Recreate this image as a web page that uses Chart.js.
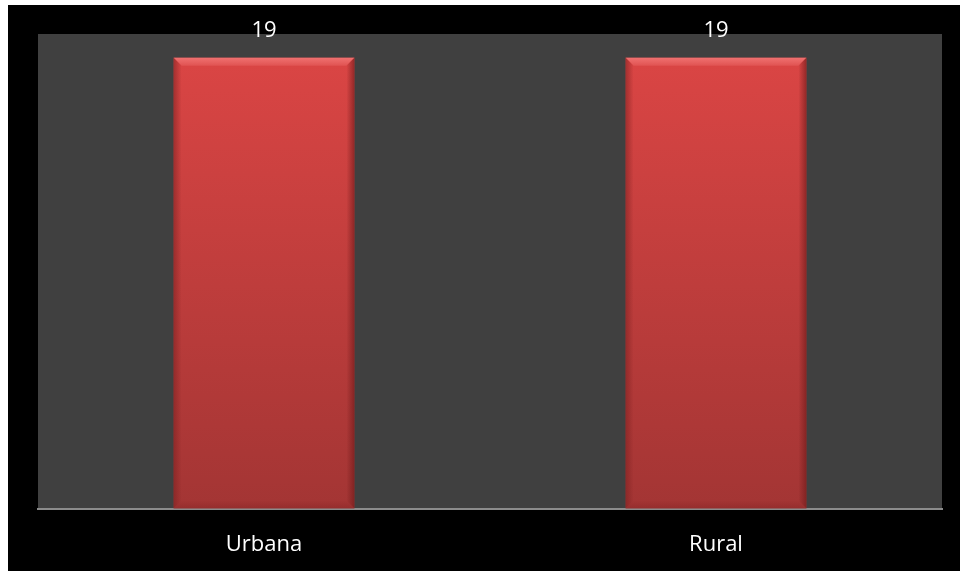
<!DOCTYPE html>
<html>
<head>
<meta charset="utf-8">
<script src="https://cdn.jsdelivr.net/npm/chart.js@4.4.1/dist/chart.umd.min.js"></script>
<style>
  html, body { margin: 0; padding: 0; background: #ffffff; overflow: hidden; }
  #wrap { position: absolute; left: 0; top: 0; width: 960px; height: 590px; }
</style>
</head>
<body>
<div id="wrap"><canvas id="c" width="960" height="590"></canvas></div>
<script>
const categories = ["Urbana", "Rural"];
const values = [19, 19];
const yMax = 20;

const FONT = "'Open Sans', 'Liberation Sans', sans-serif";

// Page frame: white strip on left/top, black backdrop, grey plot area
const framePlugin = {
  id: "frame",
  beforeDraw(chart) {
    const ctx = chart.ctx;
    const a = chart.chartArea;
    ctx.save();
    ctx.fillStyle = "#ffffff";
    ctx.fillRect(0, 0, chart.width, chart.height);
    ctx.fillStyle = "#000000";
    ctx.fillRect(8, 5, chart.width - 8, chart.height - 5);
    ctx.fillStyle = "#404040";
    ctx.fillRect(a.left, a.top, a.right - a.left, a.bottom - a.top);
    ctx.restore();
  }
};

// Bevelled bar faces drawn over each bar element
const bevelPlugin = {
  id: "bevel",
  afterDatasetsDraw(chart) {
    const ctx = chart.ctx;
    const meta = chart.getDatasetMeta(0);
    meta.data.forEach((bar) => {
      const w = bar.width;
      const l = bar.x - w / 2, r = bar.x + w / 2;
      const t = bar.y, b = bar.base;
      const e = 8;
      ctx.save();
      // top bevel
      let g = ctx.createLinearGradient(0, t, 0, t + e);
      g.addColorStop(0, "#f07170");
      g.addColorStop(1, "#e05352");
      ctx.fillStyle = g;
      ctx.beginPath();
      ctx.moveTo(l, t); ctx.lineTo(r, t); ctx.lineTo(r - e, t + e); ctx.lineTo(l + e, t + e); ctx.closePath();
      ctx.fill();
      // left bevel
      g = ctx.createLinearGradient(l, 0, l + e, 0);
      g.addColorStop(0, "rgba(120,30,30,0.55)");
      g.addColorStop(1, "rgba(120,30,30,0.0)");
      ctx.fillStyle = g;
      ctx.beginPath();
      ctx.moveTo(l, t); ctx.lineTo(l + e, t + e); ctx.lineTo(l + e, b - e); ctx.lineTo(l, b); ctx.closePath();
      ctx.fill();
      // right bevel
      g = ctx.createLinearGradient(r, 0, r - e, 0);
      g.addColorStop(0, "rgba(110,25,25,0.65)");
      g.addColorStop(1, "rgba(110,25,25,0.0)");
      ctx.fillStyle = g;
      ctx.beginPath();
      ctx.moveTo(r, t); ctx.lineTo(r - e, t + e); ctx.lineTo(r - e, b - e); ctx.lineTo(r, b); ctx.closePath();
      ctx.fill();
      // bottom bevel
      g = ctx.createLinearGradient(0, b - e, 0, b);
      g.addColorStop(0, "rgba(140,40,40,0.0)");
      g.addColorStop(1, "rgba(140,40,40,0.6)");
      ctx.fillStyle = g;
      ctx.beginPath();
      ctx.moveTo(l, b); ctx.lineTo(l + e, b - e); ctx.lineTo(r - e, b - e); ctx.lineTo(r, b); ctx.closePath();
      ctx.fill();
      ctx.restore();
    });
  },
  afterDraw(chart) {
    // value labels above bars
    const ctx = chart.ctx;
    const meta = chart.getDatasetMeta(0);
    ctx.save();
    ctx.fillStyle = "#ffffff";
    ctx.font = "22px " + FONT;
    ctx.textAlign = "center";
    ctx.textBaseline = "middle";
    meta.data.forEach((bar, i) => {
      ctx.fillText(String(values[i]), bar.x, bar.y - 27);
    });
    ctx.restore();
  }
};

const ctx = document.getElementById("c").getContext("2d");
new Chart(ctx, {
  type: "bar",
  data: {
    labels: categories,
    datasets: [{
      data: values,
      backgroundColor: (c) => {
        const a = c.chart.chartArea;
        if (!a) return "#c84040";
        const g = c.chart.ctx.createLinearGradient(0, a.top, 0, a.bottom);
        g.addColorStop(0, "#dd4645");
        g.addColorStop(1, "#a33534");
        return g;
      },
      borderWidth: 0,
      categoryPercentage: 0.4,
      barPercentage: 1.0
    }]
  },
  options: {
    responsive: false,
    animation: false,
    devicePixelRatio: 1,
    layout: { padding: { left: 38, right: 18, top: 34, bottom: 9 } },
    plugins: { legend: { display: false }, tooltip: { enabled: false } },
    scales: {
      y: { display: false, min: 0, max: yMax },
      x: {
        grid: { display: false, drawTicks: false },
        border: { display: true, color: "#8c8c8c", width: 2 },
        ticks: {
          color: "#ffffff",
          font: { size: 22, family: FONT },
          padding: 23
        }
      }
    }
  },
  plugins: [framePlugin, bevelPlugin]
});
</script>
</body>
</html>
